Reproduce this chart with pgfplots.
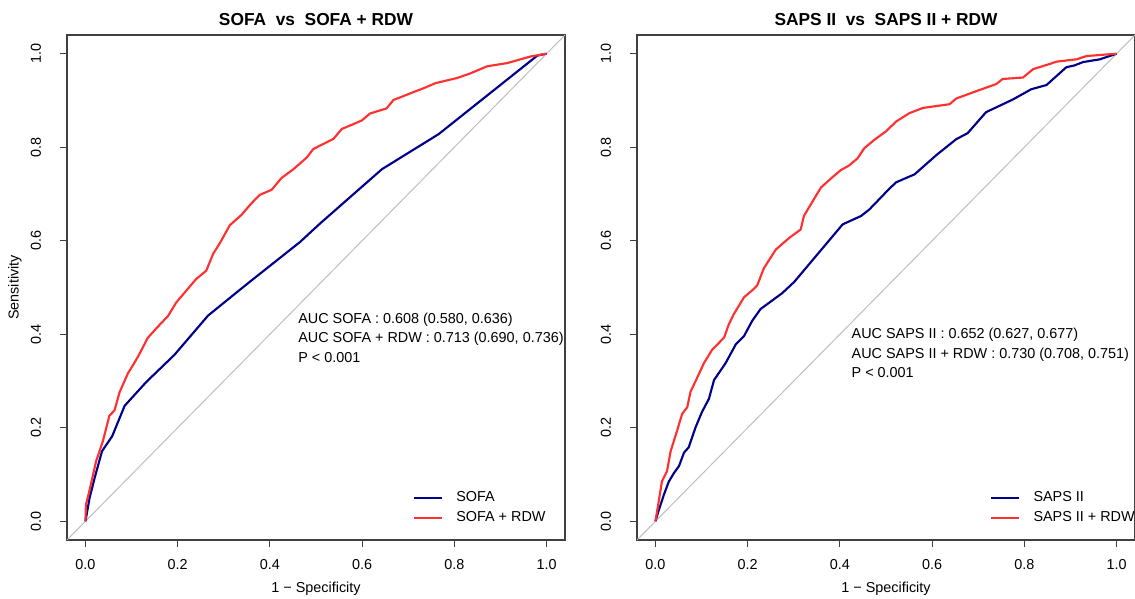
\documentclass[border=0pt]{standalone}
\usepackage{fontspec}
\setmainfont{Liberation Sans}
\usepackage{pgfplots}
\pgfplotsset{compat=1.18}
\definecolor{rocblue}{HTML}{00008B}
\definecolor{rocred}{HTML}{FF3030}
\definecolor{diaggray}{HTML}{BEBEBE}

\pgfplotsset{
  rocaxis/.style={
    scale only axis,
    width=373.5pt, height=378.75pt,
    xmin=-0.04, xmax=1.04, ymin=-0.04, ymax=1.04,
    axis line style={black!75, line width=0.8pt},
    xtick={0,0.2,0.4,0.6,0.8,1}, ytick={0,0.2,0.4,0.6,0.8,1},
    xticklabels={0.0,0.2,0.4,0.6,0.8,1.0},
    yticklabels={0.0,0.2,0.4,0.6,0.8,1.0},
    tick align=outside, xtick pos=left, ytick pos=left,
    major tick length=5.25pt,
    tick style={black!75, line width=0.8pt},
    ticklabel style={font=\fontsize{10.8}{13}\selectfont, inner sep=0pt},
    /pgf/number format/assume math mode=true,
    xticklabel shift=9pt,
    yticklabel style={rotate=90, anchor=south, yshift=14pt},
    xlabel={1 − Specificity},
    xlabel style={font=\fontsize{10.8}{13}\selectfont, at={(rel axis cs:0.5,-0.097)}, anchor=center},
    title style={font=\bfseries\fontsize{13}{15}\selectfont, at={(rel axis cs:0.5,1)}, anchor=base, yshift=0.75pt},
    legend cell align=left,
    legend image code/.code={\draw[#1] (0pt,0pt) -- (21pt,0pt);},
    legend style={draw=none, fill=none, anchor=south east,
      font=\fontsize{10.8}{13}\selectfont, row sep=5pt, column sep=9.75pt,
      nodes={inner sep=0pt, text height=8pt, text depth=2pt}},
    every axis plot/.append style={line width=1.6pt, line join=round},
  }
}

\begin{document}
\begin{tikzpicture}
\path[use as bounding box] (0,0) rectangle (851.25pt,449.25pt);

\begin{axis}[rocaxis, at={(50.25pt,44.25pt)}, anchor=south west,
  title={SOFA\ \ vs\ \ SOFA + RDW},
  ylabel={Sensitivity},
  ylabel style={font=\fontsize{10.8}{13}\selectfont, at={(rel axis cs:-0.1044,0.5)}, anchor=center},
  legend style={at={(rel axis cs:0.9695,0.025)}}]
\addplot[diaggray, line width=0.75pt, forget plot] coordinates {(-0.04,-0.04) (1.04,1.04)};
\addplot[rocblue] coordinates {
(0,0) (0.009,0.05) (0.02,0.093) (0.036,0.15) (0.058,0.182) (0.085,0.247) (0.132,0.298)
(0.193,0.356) (0.266,0.44) (0.331,0.492) (0.36,0.515) (0.465,0.597) (0.509,0.637)
(0.643,0.753) (0.766,0.828) (0.98,0.996) (1,1)};
\addplot[rocred] coordinates {
(0,0) (0.001,0.035) (0.01,0.071) (0.023,0.128) (0.038,0.172) (0.052,0.226) (0.063,0.237)
(0.074,0.276) (0.092,0.316) (0.114,0.352) (0.135,0.392) (0.154,0.413) (0.179,0.439)
(0.197,0.468) (0.215,0.489) (0.24,0.518) (0.262,0.536) (0.277,0.572) (0.291,0.594)
(0.313,0.633) (0.338,0.655) (0.36,0.68) (0.378,0.698) (0.404,0.709) (0.425,0.734)
(0.451,0.753) (0.48,0.778) (0.494,0.796) (0.516,0.807) (0.538,0.818) (0.556,0.839)
(0.599,0.857) (0.617,0.872) (0.653,0.883) (0.668,0.901) (0.704,0.915) (0.733,0.926)
(0.759,0.937) (0.806,0.948) (0.835,0.958) (0.871,0.973) (0.915,0.98) (0.965,0.994) (1,1)};
\legend{SOFA, SOFA + RDW}
\node[anchor=north west, inner sep=0pt, align=left, font=\fontsize{10.8}{14.6}\selectfont]
  at (axis cs:0.461,0.446) {AUC SOFA : 0.608 (0.580, 0.636)\\AUC SOFA + RDW : 0.713 (0.690, 0.736)\\P < 0.001};
\end{axis}

\begin{axis}[rocaxis, at={(477.75pt,44.25pt)}, anchor=south west,
  title={SAPS II\ \ vs\ \ SAPS II + RDW},
  legend style={at={(rel axis cs:1.008,0.025)}}]
\addplot[diaggray, line width=0.75pt, forget plot] coordinates {(-0.04,-0.04) (1.04,1.04)};
\addplot[rocblue] coordinates {
(0,0) (0.006,0.02) (0.018,0.056) (0.029,0.085) (0.04,0.103) (0.051,0.118) (0.062,0.147)
(0.072,0.158) (0.087,0.201) (0.101,0.234) (0.116,0.262) (0.127,0.302) (0.152,0.338)
(0.174,0.378) (0.192,0.396) (0.21,0.429) (0.228,0.454) (0.275,0.488) (0.301,0.512)
(0.406,0.635) (0.446,0.653) (0.464,0.667) (0.507,0.711) (0.522,0.725) (0.562,0.742)
(0.609,0.783) (0.652,0.817) (0.677,0.83) (0.717,0.875) (0.775,0.902) (0.815,0.924)
(0.848,0.933) (0.891,0.971) (0.909,0.975) (0.927,0.982) (0.964,0.988) (1,1)};
\addplot[rocred] coordinates {
(0,0) (0.007,0.042) (0.014,0.085) (0.025,0.107) (0.033,0.15) (0.047,0.194) (0.058,0.23)
(0.069,0.244) (0.076,0.277) (0.09,0.306) (0.105,0.338) (0.123,0.367) (0.149,0.393)
(0.159,0.421) (0.17,0.443) (0.192,0.479) (0.21,0.494) (0.221,0.505) (0.235,0.541)
(0.261,0.581) (0.29,0.606) (0.315,0.624) (0.322,0.653) (0.337,0.678) (0.359,0.714)
(0.384,0.736) (0.402,0.751) (0.42,0.761) (0.438,0.776) (0.453,0.798) (0.475,0.816)
(0.5,0.834) (0.522,0.855) (0.551,0.873) (0.58,0.884) (0.638,0.892) (0.652,0.904)
(0.696,0.92) (0.739,0.935) (0.753,0.946) (0.797,0.949) (0.819,0.967) (0.855,0.978)
(0.87,0.983) (0.913,0.988) (0.935,0.995) (1,1)};
\legend{SAPS II, SAPS II + RDW}
\node[anchor=north west, inner sep=0pt, align=left, font=\fontsize{10.8}{14.6}\selectfont]
  at (axis cs:0.425,0.413) {AUC SAPS II : 0.652 (0.627, 0.677)\\AUC SAPS II + RDW : 0.730 (0.708, 0.751)\\P < 0.001};
\end{axis}
\end{tikzpicture}
\end{document}
